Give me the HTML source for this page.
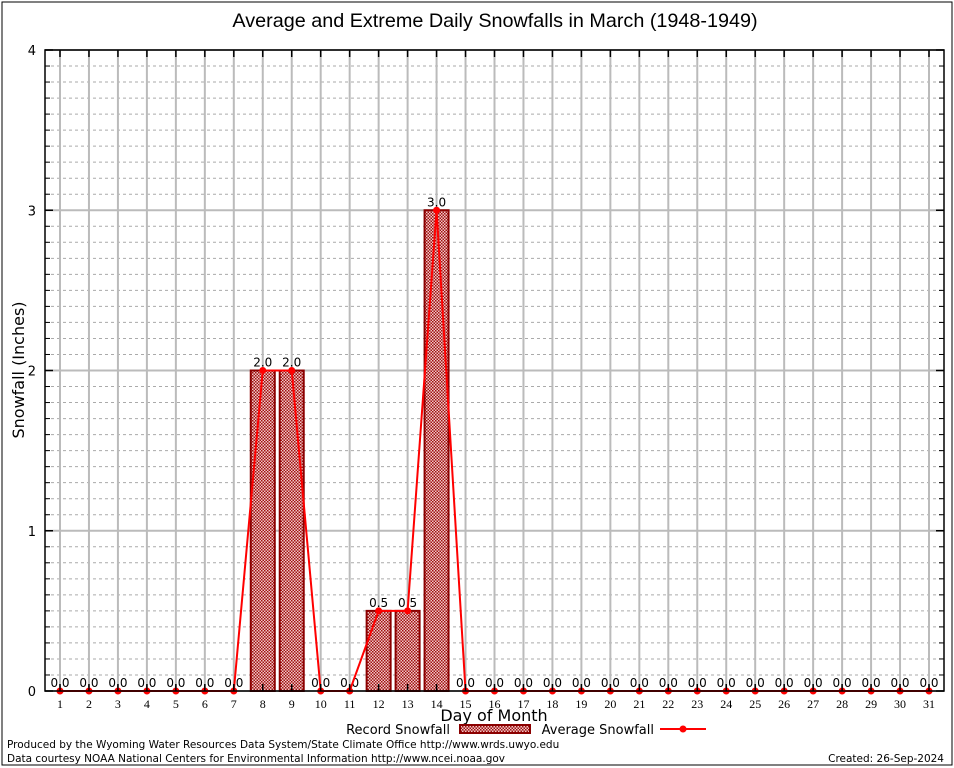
<!DOCTYPE html>
<html><head><meta charset="utf-8"><style>
body{margin:0;background:#fff;}
svg{display:block;font-family:"DejaVu Sans","Liberation Sans",sans-serif;}
</style></head><body>
<svg id="chart" width="954" height="768">
<defs>
<pattern id="chk" width="3" height="3" patternUnits="userSpaceOnUse">
<rect width="3" height="3" fill="#f0c8c8"/>
<rect width="1.5" height="1.5" fill="#a01010"/>
<rect x="1.5" y="1.5" width="1.5" height="1.5" fill="#a01010"/>
</pattern>
</defs>
<rect x="2" y="2" width="950" height="763" fill="none" stroke="#000" stroke-width="1"/>
<text x="495" y="27" font-size="19.8" text-anchor="middle" font-family="Liberation Sans, sans-serif">Average and Extreme Daily Snowfalls in March (1948-1949)</text>
<g id="grid"></g>
<g id="bars"></g>
<g id="line"></g>
<rect x="45" y="50" width="899" height="641" fill="none" stroke="#000" stroke-width="1.5"/>
<g id="axes"></g>
<text x="24" y="370" font-size="16" text-anchor="middle" transform="rotate(-90 24 370)">Snowfall (Inches)</text>
<text x="494" y="721" font-size="16" text-anchor="middle">Day of Month</text>
<g>
<text x="450" y="734" font-size="13" text-anchor="end">Record Snowfall</text>
<rect x="460" y="725" width="70" height="8" fill="url(#chk)" stroke="#8b0000" stroke-width="2"/>
<text x="654" y="734" font-size="13" text-anchor="end">Average Snowfall</text>
<line x1="660" y1="729" x2="706" y2="729" stroke="#f00" stroke-width="2"/>
<circle cx="683" cy="729" r="3.5" fill="#f00"/>
</g>
<text x="7" y="748" font-size="10.5">Produced by the Wyoming Water Resources Data System/State Climate Office http://www.wrds.uwyo.edu</text>
<text x="7" y="762" font-size="10.5">Data courtesy NOAA National Centers for Environmental Information http://www.ncei.noaa.gov</text>
<text x="944" y="762" font-size="10.5" text-anchor="end">Created:  26-Sep-2024</text>
</svg>
<script>
const days=[1,2,3,4,5,6,7,8,9,10,11,12,13,14,15,16,17,18,19,20,21,22,23,24,25,26,27,28,29,30,31];
const recordSnow=[0,0,0,0,0,0,0,2,2,0,0,0.5,0.5,3,0,0,0,0,0,0,0,0,0,0,0,0,0,0,0,0,0];
const avgSnow=[0,0,0,0,0,0,0,2,2,0,0,0.5,0.5,3,0,0,0,0,0,0,0,0,0,0,0,0,0,0,0,0,0];
const yTicks=[0,1,2,3,4];
const NS="http://www.w3.org/2000/svg";
const x=d=>60+(d-1)*(929-60)/30;
const y=v=>691-v*(641/4);
function mk(tag,attrs,parent){const e=document.createElementNS(NS,tag);for(const k in attrs)e.setAttribute(k,attrs[k]);parent.appendChild(e);return e;}
const grid=document.getElementById('grid'),bars=document.getElementById('bars'),line=document.getElementById('line'),axes=document.getElementById('axes');
for(let i=0;i<40;i++){if(i%10===0)continue;const v=i/10;
 const l=mk('line',{x1:45,x2:944,y1:y(v),y2:y(v),stroke:'#aaa','stroke-dasharray':'3,3','stroke-width':1},grid);
 
 
 mk('line',{x1:45,x2:50,y1:y(v),y2:y(v),stroke:'#000'},axes);
 mk('line',{x1:939,x2:944,y1:y(v),y2:y(v),stroke:'#000'},axes);}
yTicks.forEach(t=>{
 const l=mk('line',{x1:45,x2:944,y1:y(t),y2:y(t),stroke:'#bbb','stroke-width':2},grid);
 
 
 mk('line',{x1:45,x2:53,y1:y(t),y2:y(t),stroke:'#000','stroke-width':1.5},axes);
 mk('line',{x1:936,x2:944,y1:y(t),y2:y(t),stroke:'#000','stroke-width':1.5},axes);
 const tx=mk('text',{x:36,y:y(t)+5,'font-size':13,'text-anchor':'end'},axes);tx.textContent=t;
 
 });
days.forEach(d=>{
 const l=mk('line',{x1:x(d),x2:x(d),y1:50,y2:691,stroke:'#bbb','stroke-width':2},grid);
 
 
 mk('line',{x1:x(d),x2:x(d),y1:50,y2:57,stroke:'#000','stroke-width':1.5},axes);
 mk('line',{x1:x(d),x2:x(d),y1:684,y2:691,stroke:'#000','stroke-width':1.5},axes);
 const tx=mk('text',{x:x(d),y:708,'font-size':12,'text-anchor':'middle','font-family':'Liberation Serif, serif'},axes);tx.textContent=d;
 
 });
days.forEach((d,i)=>{const v=recordSnow[i];
 if(v>0){const r=mk('rect',{x:x(d)-12,y:y(v),width:24,height:y(0)-y(v),fill:'url(#chk)',stroke:'#8b0000','stroke-width':2},bars);
 
 }
 const t=mk('text',{x:x(d),y:y(v)-4,'font-size':12,'text-anchor':'middle'},bars);t.textContent=v.toFixed(1);
 
 });
const pl=mk('polyline',{points:days.map((d,i)=>x(d)+','+y(avgSnow[i])).join(' '),fill:'none',stroke:'#f00','stroke-width':2},line);


days.forEach((d,i)=>{const c=mk('circle',{cx:x(d),cy:y(avgSnow[i]),r:3.5,fill:'#f00'},line);
 
 });
</script>
</body></html>
